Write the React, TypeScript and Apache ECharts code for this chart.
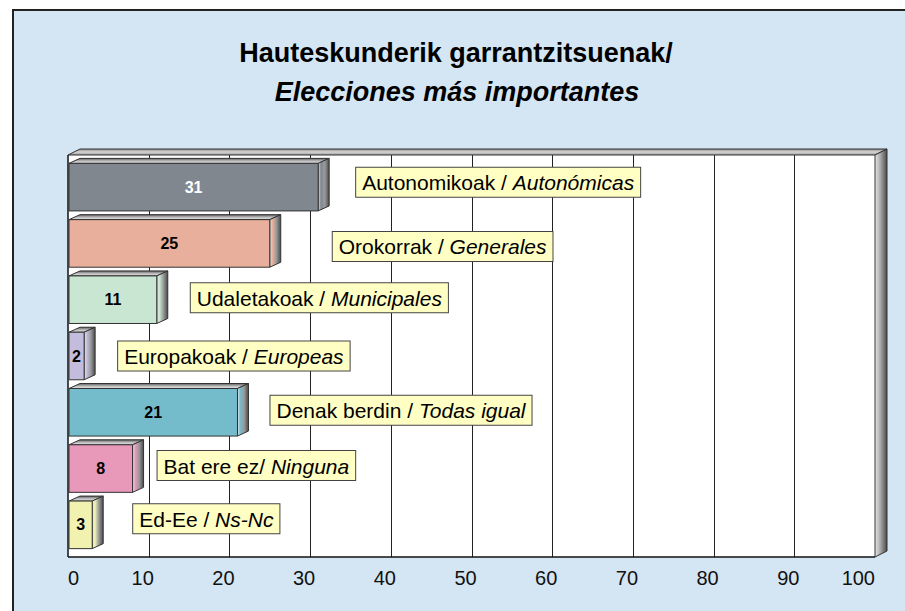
import React, { useEffect, useRef } from 'react';
import * as echarts from 'echarts';

// ---------- data ----------
const titleLine1 = 'Hauteskunderik garrantzitsuenak/';
const titleLine2 = 'Elecciones más importantes';
const basqueNames = ['Autonomikoak', 'Orokorrak', 'Udaletakoak', 'Europakoak', 'Denak berdin', 'Bat ere ez', 'Ed-Ee'];
const separators = [' / ', ' / ', ' / ', ' / ', ' / ', '/ ', ' / '];
const spanishNames = ['Autonómicas', 'Generales', 'Municipales', 'Europeas', 'Todas igual', 'Ninguna', 'Ns-Nc'];
const values = [31, 25, 11, 2, 21, 8, 3];
const xTicks = [0, 10, 20, 30, 40, 50, 60, 70, 80, 90, 100];
const xTickLabels = ['0', '10', '20', '30', '40', '50', '60', '70', '80', '90', '100'];

// ---------- styles ----------
const FONT = '"Liberation Sans", Arial, Helvetica, sans-serif';
const barColors = ['#80878F', '#E8B09C', '#C8E6D2', '#C3BCDC', '#74BCCC', '#E898B8', '#F2F2B0'];
const valueLabelColors = ['#FFFFFF', '#000000', '#000000', '#000000', '#000000', '#000000', '#000000'];
const labelGaps = [38, 63, 34, 34, 33, 25, 41];
const labelShifts = [-5, 3, -2, 0, -2, -3, -6];
const DX = 11;
const DY = 5;

const categories = basqueNames.map((b, i) => b + separators[i] + spanishNames[i]);

function sideGradient(c: string) {
  return new echarts.graphic.LinearGradient(0, 0, 1, 0, [
    { offset: 0, color: '#e4e4e4' },
    { offset: 0.25, color: c },
    { offset: 0.6, color: '#9a9a9a' },
    { offset: 1, color: '#4a4a4a' },
  ]);
}
function topGradient() {
  return new echarts.graphic.LinearGradient(0, 0, 0, 1, [
    { offset: 0, color: '#5a5a5a' },
    { offset: 0.5, color: '#b8b8b8' },
    { offset: 1, color: '#e8e8e8' },
  ]);
}

const renderWalls = (params: any, api: any) => {
  const cs = params.coordSys;
  const x = cs.x, w = cs.width;
  const yT = cs.y - 4, yB = cs.y + cs.height + 4;
  const children: any[] = [];
  children.push({ type: 'rect', shape: { x, y: yT, width: w, height: yB - yT }, style: { fill: '#ffffff' } });
  xTicks.forEach((t) => {
    if (t === 0 || t === 100) return;
    const px = Math.round(api.coord([t, 0])[0]) + 0.5;
    children.push({ type: 'line', shape: { x1: px, y1: yT, x2: px, y2: yB }, style: { stroke: '#222', lineWidth: 1 } });
  });
  children.push({
    type: 'polygon',
    shape: { points: [[x, yT], [x + DX + 1, yT - 6], [x + w + DX + 1, yT - 6], [x + w, yT]] },
    style: {
      fill: new echarts.graphic.LinearGradient(0, 0, 0, 1, [
        { offset: 0, color: '#8a8a8a' },
        { offset: 0.5, color: '#d6d6d6' },
        { offset: 1, color: '#9a9a9a' },
      ]),
      stroke: '#333', lineWidth: 1,
    },
  });
  children.push({
    type: 'polygon',
    shape: { points: [[x + w, yT], [x + w + DX + 1, yT - 6], [x + w + DX + 1, yB - 6], [x + w, yB]] },
    style: {
      fill: new echarts.graphic.LinearGradient(0, 0, 1, 0, [
        { offset: 0, color: '#e8e8e8' },
        { offset: 0.45, color: '#a8a8a8' },
        { offset: 1, color: '#4a4a4a' },
      ]),
      stroke: '#333', lineWidth: 1,
    },
  });
  children.push({ type: 'line', shape: { x1: x, y1: yT, x2: x, y2: yB }, style: { stroke: '#111', lineWidth: 1.5 } });
  children.push({ type: 'line', shape: { x1: x, y1: yB, x2: x + w, y2: yB }, style: { stroke: '#111', lineWidth: 1.5 } });
  return { type: 'group', children };
};

const renderBar = (params: any, api: any) => {
  const i = params.dataIndex;
  const v = api.value(0);
  const ci = api.value(1);
  const p0 = api.coord([0, ci]);
  const p1 = api.coord([v, ci]);
  const band = Math.abs(api.size([0, 1])[1]);
  const h = band * 0.845;
  const x0 = p0[0] + 1;
  const x1 = p1[0];
  const yc = p0[1];
  const top = yc - h / 2;
  const bot = yc + h / 2;
  const c = barColors[i];
  return {
    type: 'group',
    children: [
      {
        type: 'polygon',
        shape: { points: [[x0, top], [x0 + DX, top - DY], [x1 + DX, top - DY], [x1, top]] },
        style: { fill: topGradient(), stroke: '#333', lineWidth: 1 },
      },
      {
        type: 'polygon',
        shape: { points: [[x1, top], [x1 + DX, top - DY], [x1 + DX, bot - DY], [x1, bot]] },
        style: { fill: sideGradient(c), stroke: '#333', lineWidth: 1 },
      },
      {
        type: 'rect',
        shape: { x: x0, y: top, width: x1 - x0, height: h },
        style: { fill: c, stroke: '#333', lineWidth: 1 },
      },
      {
        type: 'text',
        style: {
          text: String(v), x: (x0 + x1) / 2, y: yc, align: 'center', verticalAlign: 'middle',
          fontSize: 16, fontWeight: 'bold', fontFamily: FONT, fill: valueLabelColors[i],
        },
      },
      {
        type: 'text',
        style: {
          text: basqueNames[i] + separators[i] + '{i|' + spanishNames[i] + '}',
          x: x1 + labelGaps[i], y: yc + labelShifts[i], align: 'left', verticalAlign: 'middle',
          fontSize: 21, fontFamily: FONT, fill: '#000', lineHeight: 22,
          backgroundColor: '#FFFFC4', borderColor: '#444', borderWidth: 1, padding: [4, 6, 3, 6],
          rich: { i: { fontStyle: 'italic', fontSize: 21, fontFamily: FONT, fill: '#000', lineHeight: 22 } },
        },
      },
    ],
  };
};

export default function App() {
  const ref = useRef<HTMLDivElement>(null);
  useEffect(() => {
    const chart = echarts.init(ref.current!, null, { renderer: 'svg' });
    const option: any = {
      animation: false,
      backgroundColor: 'transparent',
      graphic: [
        {
          type: 'rect', z: -10, silent: true,
          shape: { x: 13, y: 10, width: 1000, height: 1000 },
          style: { fill: '#D4E6F4', stroke: '#222', lineWidth: 2 },
        },
        {
          type: 'text', z: 10,
          style: { text: titleLine1, x: 456, y: 53, align: 'center', verticalAlign: 'middle', fontSize: 27, fontWeight: 'bold', fontFamily: FONT, fill: '#000' },
        },
        {
          type: 'text', z: 10,
          style: { text: titleLine2, x: 457, y: 92, align: 'center', verticalAlign: 'middle', fontSize: 27, fontWeight: 'bold', fontStyle: 'italic', fontFamily: FONT, fill: '#000' },
        },
      ],
      grid: { left: 68, right: 30, top: 159, bottom: 58, containLabel: false },
      xAxis: {
        type: 'value', min: 0, max: 100, interval: 10,
        axisLine: { show: false }, axisTick: { show: false }, splitLine: { show: false },
        axisLabel: {
          margin: 15, color: '#111', fontSize: 20, fontFamily: FONT,
          alignMinLabel: 'left', alignMaxLabel: 'right',
          formatter: (val: number) => {
            const idx = xTicks.indexOf(val);
            const s = idx >= 0 ? xTickLabels[idx] : String(val);
            return val === 0 || val === 100 ? '{e|' + s + '}' : '{m|' + s + '}';
          },
          rich: {
            e: { fontSize: 20, fontFamily: FONT, color: '#111' },
            m: { fontSize: 20, fontFamily: FONT, color: '#111', padding: [0, 12, 0, 0] },
          },
        },
      },
      yAxis: {
        type: 'category', data: categories, inverse: true,
        axisLine: { show: false }, axisTick: { show: false }, axisLabel: { show: false }, splitLine: { show: false },
      },
      series: [
        { type: 'custom', name: 'walls', z: 1, clip: false, silent: true, data: [[0, 0]], encode: { x: 0, y: 1 }, renderItem: renderWalls },
        { type: 'custom', name: 'bars', z: 3, clip: false, data: values.map((v, i) => [v, i]), encode: { x: 0, y: 1 }, renderItem: renderBar },
      ],
    };
    chart.setOption(option);
    return () => chart.dispose();
  }, []);
  return <div ref={ref} style={{ position: 'absolute', left: 0, top: 0, width: 905, height: 611 }} />;
}
